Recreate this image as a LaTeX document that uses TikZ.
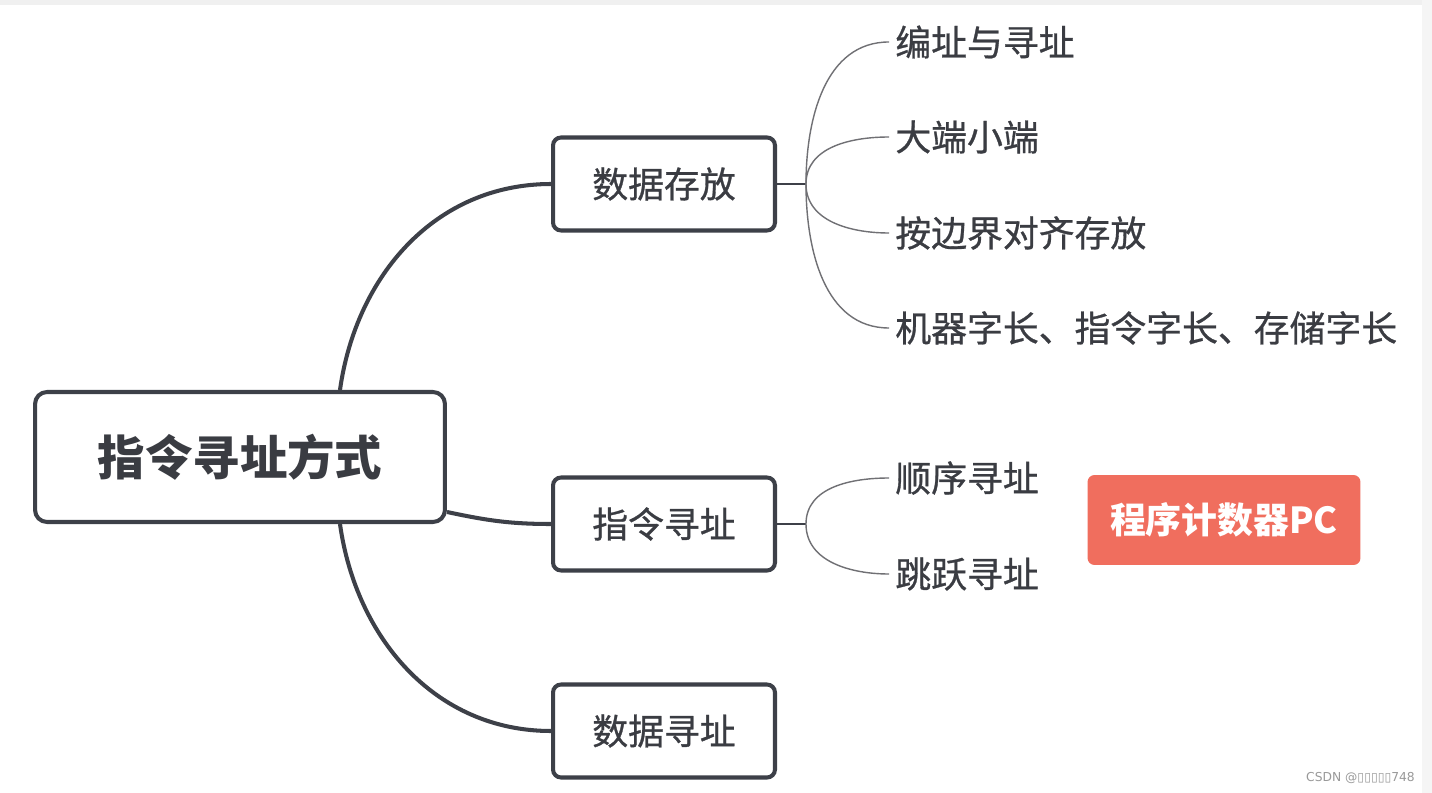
\documentclass[tikz,border=0pt]{standalone}
\usepackage{fontspec}
\setmainfont{Noto Sans CJK SC}
\newfontfamily\medfont{Noto Sans CJK SC}[FakeBold=0.8]
\newfontfamily\markfont{DejaVu Sans}
\usetikzlibrary{positioning}
\definecolor{boxline}{RGB}{61,64,72}
\definecolor{twigline}{RGB}{112,112,116}
\definecolor{textgray}{RGB}{58,60,66}
\definecolor{pcred}{RGB}{240,110,94}
\tikzset{
rootbox/.style={draw=boxline, line width=2.3pt, rounded corners=0.24cm, minimum width=8.2cm, minimum height=2.6cm, text=textgray, font=\fontsize{27}{30}\selectfont\bfseries}, % the central topic
topicbox/.style={draw=boxline, line width=2.3pt, rounded corners=0.16cm, minimum width=4.44cm, minimum height=1.86cm, text=textgray, font=\medfont\fontsize{20.4}{24}\selectfont}, % main branches
leaf/.style={anchor=west, inner sep=0.12cm, text=textgray, font=\medfont\fontsize{20.4}{24}\selectfont}, % plain sub topics
pcbox/.style={fill=pcred, rounded corners=0.14cm, minimum width=5.46cm, minimum height=1.8cm, text=white, font=\fontsize{20.4}{24}\selectfont\bfseries}, % the red note
branch/.style={draw=boxline, line width=2.3pt}, % thick lines from the root
stub/.style={draw=boxline, line width=1.2pt}, % short piece out of a box
twig/.style={draw=twigline, line width=0.8pt}, % thin lines to the sub topics
}

\begin{document}
\begin{tikzpicture}[x=0.02cm, y=0.02cm]
    \useasboundingbox (0,0) rectangle (1432,-793);
    \fill[white] (0,0) rectangle (1432,-793);
    \fill[gray!12] (0,0) rectangle (1432,-5);
    \fill[gray!8] (1422,0) rectangle (1432,-793);

    \node[rootbox] (root) at (240,-457) {指令寻址方式};
    \node[topicbox] (store) at (664,-184) {数据存放};
    \node[topicbox] (instr) at (664,-524) {指令寻址};
    \node[topicbox] (data) at (664,-731) {数据寻址};

    \node[leaf] (s1) at (889,-42) {编址与寻址};
    \node[leaf] (s2) at (889,-137) {大端小端};
    \node[leaf] (s3) at (889,-233) {按边界对齐存放};
    \node[leaf] (s4) at (889,-328) {机器字长、指令字长、存储字长};
    \node[leaf] (i1) at (889,-478) {顺序寻址};
    \node[leaf] (i2) at (889,-574) {跳跃寻址};

    \node[pcbox] (pc) at (1224,-520) {程序计数器PC};

    \coordinate (jstore) at ([xshift=0.58cm]store.east);
    \coordinate (jinstr) at ([xshift=0.58cm]instr.east);

    \draw[branch] ([xshift=2cm]root.north) to[out=82, in=180] (store.west);
    \draw[branch] ([yshift=-1.1cm]root.east) to[out=-12, in=180] (instr.west);
    \draw[branch] ([xshift=2cm]root.south) to[out=-82, in=180] (data.west);

    \draw[stub] (store.east) -- (jstore);
    \draw[stub] (instr.east) -- (jinstr);
    \foreach \leafname/\ang in {s1/90, s2/90, s3/-90, s4/-90}
        \draw[twig] (jstore) to[out=\ang, in=180] (\leafname.west);
    \foreach \leafname/\ang in {i1/90, i2/-90}
        \draw[twig] (jinstr) to[out=\ang, in=180] (\leafname.west);

    \node[anchor=east, text=gray!80, font=\markfont\fontsize{7}{9}\selectfont] (mark) at (1421,-778) {CSDN @▯▯▯▯▯748};
\end{tikzpicture}
\end{document}
